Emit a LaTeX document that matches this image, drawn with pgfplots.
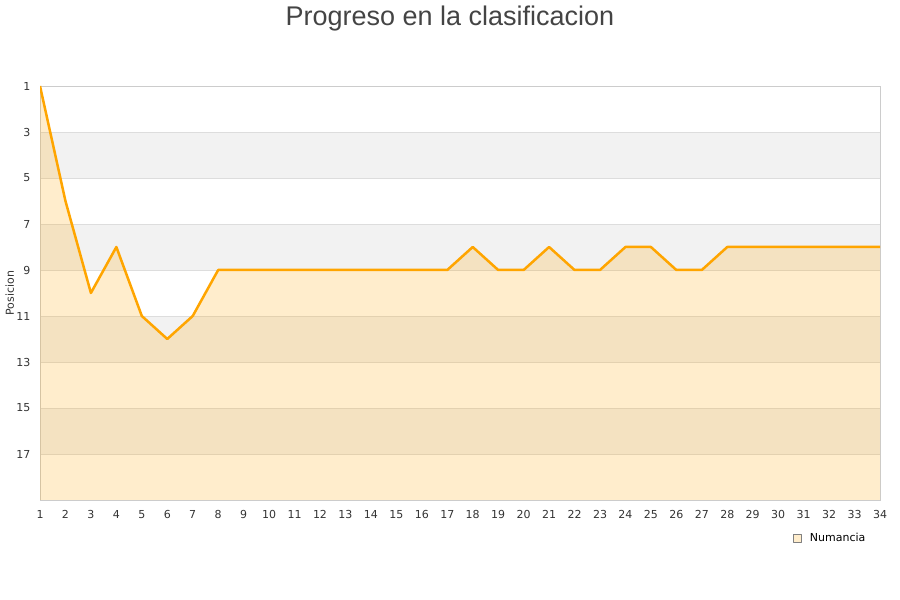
\documentclass[border=0pt]{standalone}
\usepackage{pgfplots}
\pgfplotsset{compat=1.18}
\usepackage{fontspec}
\setmainfont{DejaVu Sans}
\newfontfamily\titlefont{Liberation Sans}
\definecolor{lineor}{HTML}{FFA500}
\definecolor{band}{HTML}{F2F2F2}
\definecolor{gridc}{HTML}{DDDDDD}
\definecolor{axc}{HTML}{CCCCCC}
\definecolor{txt}{HTML}{333333}
\definecolor{ttl}{HTML}{444444}
\definecolor{legf}{HTML}{FFEDCC}
\begin{document}
\begin{tikzpicture}
\path (0pt,0pt) rectangle (900pt,600pt);
\node[anchor=base, font=\titlefont\fontsize{27}{30}\selectfont, text=ttl] at (450pt,574pt) {Progreso en la clasificacion};
\begin{axis}[
  set layers,
  at={(40pt,100pt)}, anchor=south west,
  scale only axis, width=840pt, height=414pt,
  xmin=1, xmax=34, ymin=1, ymax=19,
  y dir=reverse,
  xtick={1,...,34}, ytick={1,3,...,17},
  ymajorgrids, grid style={gridc, line width=0.8pt},
  axis line style={axc, line width=0.8pt},
  major tick style={draw=none},
  tick label style={font=\fontsize{11}{13}\selectfont, text=txt},
  /pgf/number format/assume math mode=true,
  xticklabel style={yshift=-7pt},
  yticklabel style={xshift=-6pt},
  ylabel={Posicion},
  ylabel style={font=\fontsize{11}{13}\selectfont, text=txt, at={(axis description cs:-0.036,0.5)}, anchor=center},
  legend style={at={(axis description cs:0.893,-0.092)}, anchor=west, draw=none, fill=none,
     font=\fontsize{11}{13}\selectfont, legend cell align=left},
  clip=true,
]
\addplot[fill=band, draw=none, forget plot, on layer=axis background] coordinates {(1,3)(34,3)(34,5)(1,5)};
\addplot[fill=band, draw=none, forget plot, on layer=axis background] coordinates {(1,7)(34,7)(34,9)(1,9)};
\addplot[fill=band, draw=none, forget plot, on layer=axis background] coordinates {(1,11)(34,11)(34,13)(1,13)};
\addplot[fill=band, draw=none, forget plot, on layer=axis background] coordinates {(1,15)(34,15)(34,17)(1,17)};
\addplot[fill=lineor, fill opacity=0.2, draw=none, forget plot] coordinates {
(1,1)(2,6)(3,10)(4,8)(5,11)(6,12)(7,11)(8,9)(9,9)(10,9)(11,9)(12,9)(13,9)(14,9)(15,9)(16,9)(17,9)
(18,8)(19,9)(20,9)(21,8)(22,9)(23,9)(24,8)(25,8)(26,9)(27,9)(28,8)(29,8)(30,8)(31,8)(32,8)(33,8)(34,8)
(34,19)(1,19)};
\addplot[lineor, line width=2.5pt, line join=round, mark=none,
  legend image code/.code={\draw[fill=legf, draw=gray, line width=0.6pt] (0pt,-4pt) rectangle (8pt,4pt); \path (13pt,0pt);}]
  coordinates {
(1,1)(2,6)(3,10)(4,8)(5,11)(6,12)(7,11)(8,9)(9,9)(10,9)(11,9)(12,9)(13,9)(14,9)(15,9)(16,9)(17,9)
(18,8)(19,9)(20,9)(21,8)(22,9)(23,9)(24,8)(25,8)(26,9)(27,9)(28,8)(29,8)(30,8)(31,8)(32,8)(33,8)(34,8)};
\addlegendentry{Numancia}
\end{axis}
\end{tikzpicture}
\end{document}
